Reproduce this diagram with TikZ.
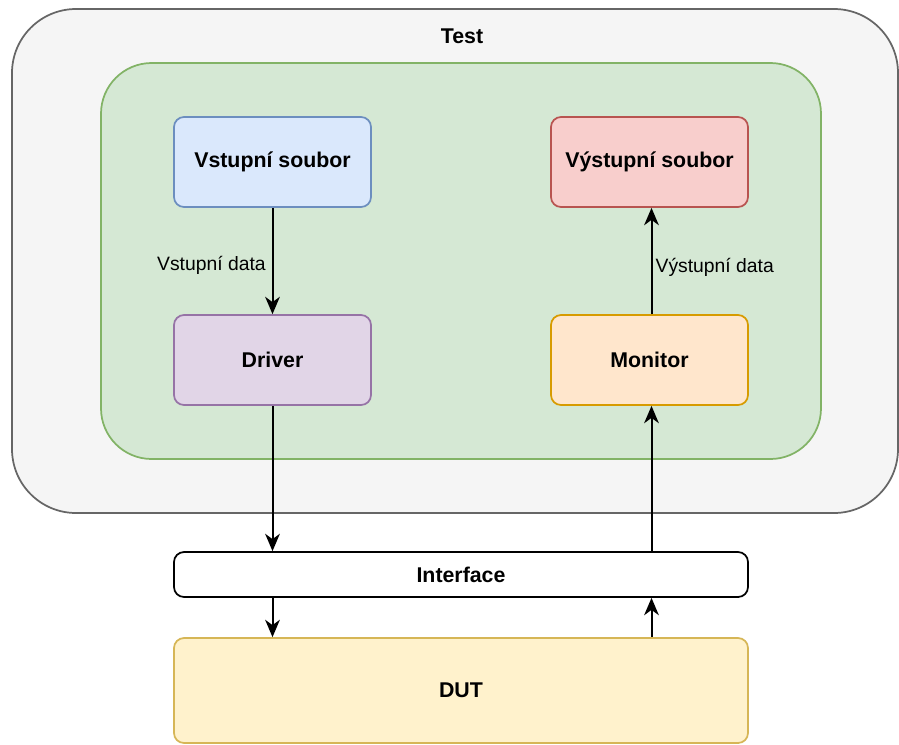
\documentclass[tikz,border=0pt]{standalone}
\usepackage{fontspec}
\setmainfont{Liberation Sans}
\usetikzlibrary{arrows.meta}
\definecolor{testfill}{HTML}{F5F5F5}
\definecolor{testline}{HTML}{666666}
\definecolor{grnfill}{HTML}{D5E8D4}
\definecolor{grnline}{HTML}{82B366}
\definecolor{bluefill}{HTML}{DAE8FC}
\definecolor{blueline}{HTML}{6C8EBF}
\definecolor{redfill}{HTML}{F8CECC}
\definecolor{redline}{HTML}{B85450}
\definecolor{purfill}{HTML}{E1D5E7}
\definecolor{purline}{HTML}{9673A6}
\definecolor{orfill}{HTML}{FFE6CC}
\definecolor{orline}{HTML}{D79B00}
\definecolor{yelfill}{HTML}{FFF2CC}
\definecolor{yelline}{HTML}{D6B656}
\begin{document}
\begin{tikzpicture}[x=0.75pt, y=-0.75pt,
  blok/.style={draw, rounded corners=7.5pt, line width=1.3pt, minimum width=147.75pt, minimum height=67.5pt, inner sep=0pt, font=\fontsize{16}{19}\selectfont\bfseries},
  sirokyblok/.style={blok, minimum width=430.5pt},
  popis/.style={font=\fontsize{14.5}{17}\selectfont},
  sipka/.style={-{Stealth[length=13pt, width=11pt, inset=4pt]}, line width=1.5pt}]
\useasboundingbox (0,0) rectangle (899,744);

\node (test) [draw=testline, fill=testfill, line width=1.3pt, rounded corners=48pt, minimum width=664.5pt, minimum height=378pt, inner sep=0pt] at (455,261) {};
\node (testlbl) [font=\fontsize{16}{19}\selectfont\bfseries] at (462,36) {Test};
\node (env) [draw=grnline, fill=grnfill, line width=1.3pt, rounded corners=38pt, minimum width=540pt, minimum height=297pt, inner sep=0pt] at (461,261) {};

\node (vin) [blok, draw=blueline, fill=bluefill] at (272.5,162) {Vstupní soubor};
\node (vout) [blok, draw=redline, fill=redfill] at (649.5,162) {Výstupní soubor};
\node (drv) [blok, draw=purline, fill=purfill] at (272.5,360) {Driver};
\node (mon) [blok, draw=orline, fill=orfill] at (649.5,360) {Monitor};
\node (ifc) [sirokyblok, fill=white, minimum height=33.75pt] at (461,574.5) {Interface};
\node (dut) [sirokyblok, draw=yelline, fill=yelfill, minimum height=78.75pt] at (461,690.5) {DUT};

\draw [sipka] (vin) -- (drv) node [popis, midway, left, xshift=-1pt, yshift=-3pt] {Vstupní data};
\draw [sipka] ([xshift=1.5]mon.north) -- ([xshift=1.5]vout.south) node [popis, midway, right, xshift=-1pt, yshift=-5pt] {Výstupní data};

\draw [sipka] (drv.south) -- (drv.south |- ifc.north);
\draw [sipka] (drv.south |- ifc.south) -- (drv.south |- dut.north);
\draw [sipka] ([xshift=1.5]mon.south |- dut.north) -- ([xshift=1.5]mon.south |- ifc.south);
\draw [sipka] ([xshift=1.5]mon.south |- ifc.north) -- ([xshift=1.5]mon.south);
\end{tikzpicture}
\end{document}
